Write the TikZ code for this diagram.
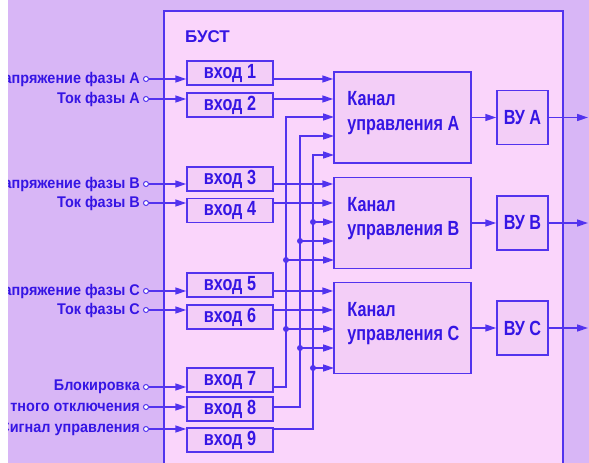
\documentclass[tikz,border=0pt]{standalone}
\usepackage{fontspec}
\setmainfont{Liberation Sans}
\newfontfamily\cond{Liberation Sans Bold}[FakeStretch=0.79]
\newfontfamily\lblfont{Liberation Sans Bold}[FakeStretch=0.93]
\usetikzlibrary{arrows.meta}
\definecolor{bg}{HTML}{D8B6F6}
\definecolor{inner}{HTML}{FAD5FB}
\definecolor{boxfill}{HTML}{F3CEF7}
\definecolor{ln}{HTML}{5233EE}
\definecolor{txt}{HTML}{3515E4}
\begin{document}
\begin{tikzpicture}[x=1pt,y=-1pt,
  inbox/.style={draw=ln, line width=1.5pt, fill=boxfill, minimum width=86pt, minimum height=24pt, inner sep=0pt, text=txt, font=\cond\fontsize{20.5}{20.5}\selectfont},
  chbox/.style={draw=ln, line width=1.5pt, fill=boxfill, minimum width=137pt, minimum height=91pt, inner sep=0pt},
  vubox/.style={draw=ln, line width=1.5pt, fill=boxfill, minimum width=51pt, minimum height=54pt, inner sep=0pt, text=txt, font=\cond\fontsize{20.5}{20.5}\selectfont},
  chlbl/.style={text=txt, align=left, inner sep=0pt, font=\cond\fontsize{20.5}{24.5}\selectfont},
  lbl/.style={text=txt, inner sep=0pt, anchor=east, font=\lblfont\fontsize{15.5}{15.5}\selectfont},
  pin/.style={circle, draw=ln, line width=1pt, fill=white, minimum size=5pt, inner sep=0pt},
  wire/.style={draw=ln, line width=1.5pt},
  conn/.style={wire, -{Triangle[length=11pt,width=7pt]}},
  dot/.style={fill=ln}
]
\useasboundingbox (0,0) rectangle (589,463);
% backgrounds
\fill[bg] (0,0) rectangle (589,463);
\fill[inner] (164,11) rectangle (563,463);
\draw[ln, line width=2pt] (164,463) -- (164,11) -- (563,11) -- (563,463);
\node[text=txt, anchor=west, inner sep=0pt, font=\bfseries\fontsize{17}{17}\selectfont] (title) at (185,37) {БУСТ};

% input boxes
\node[inbox] (b1) at (230,73) {вход 1};
\node[inbox] (b2) at (230,105) {вход 2};
\node[inbox] (b3) at (230,179) {вход 3};
\node[inbox] (b4) at (230,210.5) {вход 4};
\node[inbox] (b5) at (230,285) {вход 5};
\node[inbox] (b6) at (230,317) {вход 6};
\node[inbox] (b7) at (230,380) {вход 7};
\node[inbox] (b8) at (230,409) {вход 8};
\node[inbox] (b9) at (230,440) {вход 9};

% input pins
\node[pin] (c1) at (146,79) {};
\node[pin] (c2) at (146,99) {};
\node[pin] (c3) at (146,184) {};
\node[pin] (c4) at (146,203) {};
\node[pin] (c5) at (146,291) {};
\node[pin] (c6) at (146,310) {};
\node[pin] (c7) at (146,387) {};
\node[pin] (c8) at (146,407) {};
\node[pin] (c9) at (146,429) {};

\node[lbl] (l1) at ([xshift=-3pt]c1.west) {Напряжение фазы А};
\node[lbl] (l2) at ([xshift=-3pt]c2.west) {Ток фазы А};
\node[lbl] (l3) at ([xshift=-3pt]c3.west) {Напряжение фазы В};
\node[lbl] (l4) at ([xshift=-3pt]c4.west) {Ток фазы В};
\node[lbl] (l5) at ([xshift=-3pt]c5.west) {Напряжение фазы С};
\node[lbl] (l6) at ([xshift=-3pt]c6.west) {Ток фазы С};
\node[lbl] (l7) at ([xshift=-3pt]c7.west) {Блокировка};
\node[lbl] (l8) at ([xshift=-3pt]c8.west) {тного отключения};
\node[lbl] (l9) at ([xshift=-3pt]c9.west) {Сигнал управления};

\foreach \i in {1,...,9} {
  \draw[conn] (c\i) -- (c\i -| b\i.west);
}

% channels
\node[chbox] (chA) at (402.5,117.5) {};
\node[chbox] (chB) at (402.5,223) {};
\node[chbox] (chC) at (402.5,328) {};
\node[chlbl, anchor=west] (tA) at ([xshift=14pt,yshift=4.5pt]chA.west) {Канал\\управления А};
\node[chlbl, anchor=west] (tB) at ([xshift=14pt,yshift=4.5pt]chB.west) {Канал\\управления В};
\node[chlbl, anchor=west] (tC) at ([xshift=14pt,yshift=4.5pt]chC.west) {Канал\\управления С};

% channel input points
\coordinate (A3) at (334,117);
\coordinate (A4) at (334,136);
\coordinate (A5) at (334,155);
\coordinate (B3) at (334,222);
\coordinate (B4) at (334,241);
\coordinate (B5) at (334,260);
\coordinate (C3) at (334,329);
\coordinate (C4) at (334,348);
\coordinate (C5) at (334,368);
\coordinate (bus7) at (286,117);
\coordinate (bus8) at (300,136);
\coordinate (bus9) at (313,155);

% direct inputs
\draw[conn] (b1.east |- c1) -- (chA.west |- c1);
\draw[conn] (b2.east |- c2) -- (chA.west |- c2);
\draw[conn] (b3.east |- c3) -- (chB.west |- c3);
\draw[conn] (b4.east |- c4) -- (chB.west |- c4);
\draw[conn] (b5.east |- c5) -- (chC.west |- c5);
\draw[conn] (b6.east |- c6) -- (chC.west |- c6);

% bus lines
\draw[conn] (b7.east |- c7) -| (bus7) -- (A3);
\draw[conn] (b8.east |- c8) -| (bus8) -- (A4);
\draw[conn] (b9.east |- c9) -| (bus9) -- (A5);

\draw[conn] (bus7 |- B5) -- (B5);
\draw[conn] (bus8 |- B4) -- (B4);
\draw[conn] (bus9 |- B3) -- (B3);
\draw[conn] (bus7 |- C3) -- (C3);
\draw[conn] (bus8 |- C4) -- (C4);
\draw[conn] (bus9 |- C5) -- (C5);
\fill[dot] (bus7 |- B5) circle (3pt);
\fill[dot] (bus8 |- B4) circle (3pt);
\fill[dot] (bus9 |- B3) circle (3pt);
\fill[dot] (bus7 |- C3) circle (3pt);
\fill[dot] (bus8 |- C4) circle (3pt);
\fill[dot] (bus9 |- C5) circle (3pt);

% output units
\node[vubox] (vA) at (522.5,117.5) {ВУ А};
\node[vubox] (vB) at (522.5,223) {ВУ В};
\node[vubox] (vC) at (522.5,328) {ВУ С};
\coordinate (oA) at (588,117.5);
\coordinate (oB) at (588,223);
\coordinate (oC) at (588,328);
\draw[conn] (chA) -- (vA);
\draw[conn] (chB) -- (vB);
\draw[conn] (chC) -- (vC);
\draw[conn] (vA) -- (oA);
\draw[conn] (vB) -- (oB);
\draw[conn] (vC) -- (oC);

% left white margin
\fill[white] (0,0) rectangle (8,463);
\end{tikzpicture}
\end{document}
